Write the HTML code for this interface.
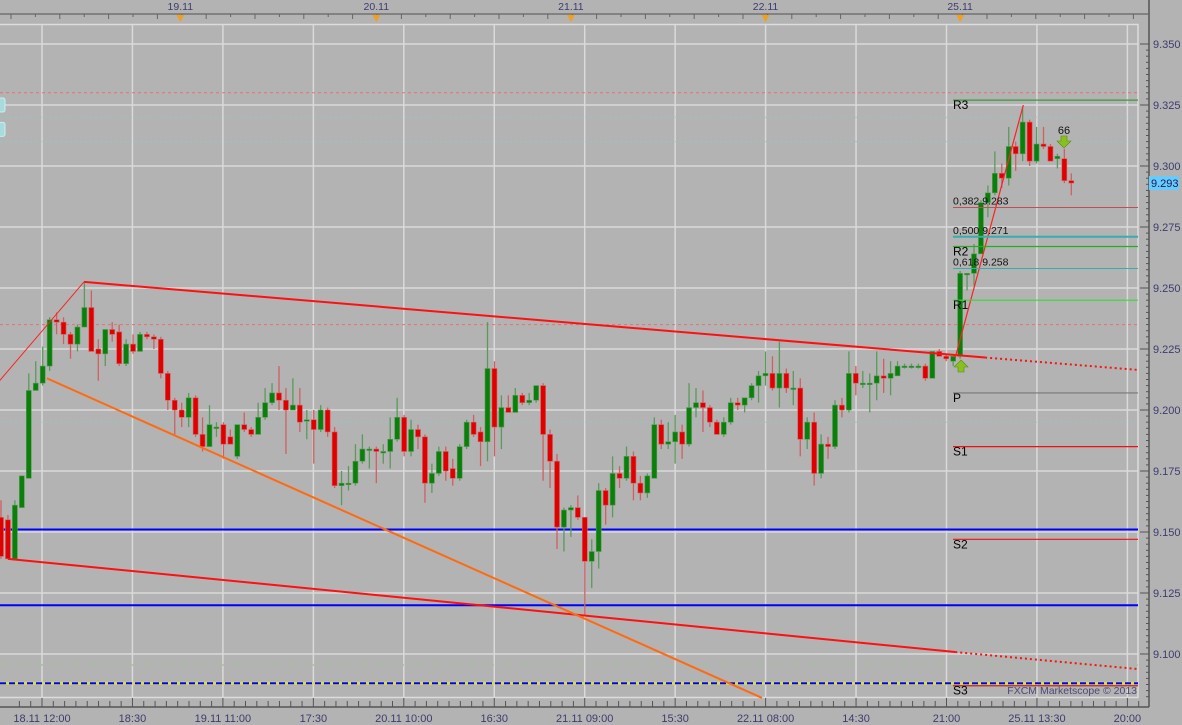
<!DOCTYPE html>
<html><head><meta charset="utf-8"><style>
html,body{margin:0;padding:0;background:#b3b3b3;}
svg{display:block;font-family:"Liberation Sans",sans-serif;}
</style></head><body>
<svg id="chart" width="1182" height="725" viewBox="0 0 1182 725" xmlns="http://www.w3.org/2000/svg">
<rect x="0" y="0" width="1182" height="725" fill="#b3b3b3"/>
<g id="grid"></g>
<g id="overlays"></g>
<g id="candles"></g>
<g id="drawings"></g>
<g id="axes"></g>
</svg>
<script>
const opens=[9.156,9.155,9.139,9.160,9.172,9.208,9.211,9.218,9.237,9.236,9.231,9.227,9.234,9.242,9.225,9.223,9.233,9.232,9.219,9.227,9.224,9.231,9.230,9.229,9.215,9.204,9.200,9.197,9.205,9.190,9.185,9.193,9.194,9.189,9.181,9.194,9.192,9.190,9.197,9.203,9.207,9.204,9.200,9.202,9.196,9.196,9.192,9.200,9.191,9.169,9.170,9.170,9.179,9.184,9.184,9.183,9.183,9.188,9.197,9.183,9.192,9.189,9.170,9.174,9.183,9.176,9.172,9.185,9.195,9.191,9.187,9.217,9.193,9.201,9.199,9.206,9.203,9.204,9.210,9.190,9.179,9.152,9.159,9.160,9.156,9.138,9.142,9.167,9.161,9.174,9.172,9.181,9.170,9.166,9.172,9.194,9.186,9.187,9.191,9.186,9.201,9.203,9.201,9.195,9.190,9.195,9.203,9.202,9.205,9.210,9.214,9.215,9.209,9.215,9.209,9.209,9.188,9.195,9.174,9.186,9.185,9.202,9.200,9.215,9.211,9.211,9.211,9.214,9.213,9.214,9.218,9.218,9.218,9.218,9.213,9.224,9.222,9.220,9.222,9.256,9.256,9.264,9.285,9.289,9.297,9.295,9.308,9.305,9.318,9.302,9.309,9.308,9.303,9.303,9.294];
const highs=[9.163,9.157,9.163,9.166,9.215,9.220,9.226,9.238,9.240,9.238,9.232,9.235,9.252,9.249,9.229,9.233,9.236,9.235,9.229,9.231,9.232,9.232,9.231,9.230,9.216,9.205,9.203,9.207,9.206,9.197,9.202,9.195,9.195,9.192,9.191,9.199,9.193,9.203,9.209,9.211,9.218,9.209,9.213,9.209,9.200,9.200,9.202,9.201,9.193,9.175,9.177,9.186,9.190,9.185,9.185,9.186,9.197,9.205,9.198,9.196,9.194,9.190,9.178,9.185,9.185,9.180,9.186,9.196,9.198,9.193,9.236,9.220,9.206,9.206,9.209,9.207,9.207,9.210,9.211,9.192,9.182,9.160,9.161,9.165,9.156,9.147,9.170,9.168,9.181,9.177,9.185,9.183,9.173,9.174,9.197,9.196,9.195,9.198,9.194,9.211,9.209,9.208,9.202,9.196,9.197,9.205,9.205,9.205,9.211,9.216,9.224,9.222,9.228,9.217,9.216,9.213,9.197,9.199,9.190,9.189,9.204,9.205,9.224,9.218,9.216,9.215,9.224,9.221,9.220,9.220,9.219,9.219,9.219,9.219,9.224,9.225,9.223,9.221,9.257,9.256,9.268,9.286,9.292,9.306,9.301,9.316,9.310,9.324,9.319,9.316,9.316,9.309,9.305,9.307,9.297];
const lows=[9.139,9.139,9.139,9.160,9.172,9.208,9.210,9.216,9.231,9.227,9.221,9.224,9.234,9.224,9.212,9.218,9.228,9.218,9.218,9.223,9.224,9.229,9.225,9.213,9.200,9.190,9.193,9.193,9.189,9.183,9.185,9.189,9.180,9.186,9.180,9.191,9.189,9.190,9.196,9.202,9.200,9.182,9.200,9.191,9.188,9.178,9.191,9.189,9.168,9.161,9.167,9.169,9.178,9.176,9.170,9.178,9.176,9.187,9.181,9.181,9.184,9.162,9.166,9.173,9.171,9.169,9.171,9.184,9.189,9.177,9.179,9.181,9.184,9.199,9.199,9.202,9.202,9.203,9.171,9.168,9.143,9.142,9.148,9.155,9.116,9.127,9.135,9.153,9.156,9.168,9.171,9.163,9.163,9.164,9.172,9.184,9.184,9.178,9.180,9.185,9.197,9.191,9.193,9.190,9.189,9.194,9.200,9.199,9.204,9.203,9.210,9.208,9.201,9.207,9.202,9.181,9.184,9.169,9.172,9.180,9.184,9.197,9.199,9.206,9.209,9.199,9.204,9.207,9.206,9.214,9.217,9.217,9.217,9.212,9.213,9.222,9.220,9.218,9.221,9.249,9.251,9.264,9.279,9.288,9.291,9.292,9.298,9.302,9.300,9.301,9.307,9.302,9.299,9.293,9.288];
const closes=[9.140,9.139,9.161,9.173,9.208,9.211,9.218,9.237,9.236,9.231,9.227,9.234,9.242,9.224,9.223,9.233,9.231,9.219,9.227,9.224,9.231,9.230,9.229,9.215,9.204,9.200,9.197,9.205,9.190,9.185,9.194,9.193,9.186,9.186,9.194,9.192,9.190,9.197,9.203,9.207,9.204,9.200,9.202,9.195,9.196,9.192,9.200,9.191,9.169,9.170,9.170,9.179,9.184,9.184,9.183,9.183,9.188,9.197,9.183,9.192,9.189,9.170,9.174,9.183,9.175,9.172,9.185,9.195,9.190,9.187,9.217,9.193,9.201,9.199,9.206,9.203,9.204,9.210,9.190,9.179,9.152,9.159,9.160,9.156,9.138,9.142,9.167,9.161,9.174,9.172,9.181,9.170,9.166,9.173,9.194,9.186,9.187,9.191,9.186,9.201,9.203,9.201,9.195,9.190,9.195,9.203,9.202,9.205,9.210,9.214,9.215,9.209,9.215,9.209,9.209,9.188,9.195,9.174,9.186,9.185,9.202,9.200,9.215,9.211,9.211,9.211,9.214,9.213,9.215,9.218,9.218,9.218,9.218,9.213,9.224,9.222,9.221,9.222,9.256,9.256,9.264,9.285,9.289,9.297,9.295,9.308,9.305,9.318,9.302,9.309,9.308,9.302,9.304,9.294,9.293];
const priceTicks=[9.350,9.325,9.300,9.275,9.250,9.225,9.200,9.175,9.150,9.125,9.100];
const timeLabels=["18.11 12:00","18:30","19.11 11:00","17:30","20.11 10:00","16:30","21.11 09:00","15:30","22.11 08:00","14:30","21:00","25.11 13:30","20:00"];
const dayLabels=["19.11","20.11","21.11","22.11","25.11"];
const dayIndex=[25.8,54,82,110,138];
const pivotNames=["R3","R2","R1","P","S1","S2","S3"];
const pivotValues=[9.327,9.267,9.245,9.207,9.185,9.147,9.087];
const pivotColors=["#3c9a3c","#22b022","#33dd33","#777777","#ee1111","#ee1111","#cc2222"];
const fibLabels=["0,382 9.283","0,500 9.271","0,618 9.258"];
const fibValues=[9.283,9.271,9.258];
const lastPrice=9.293;

const NS="http://www.w3.org/2000/svg";
const X0=1, STEP=6.95;
function xs(i){return X0+i*STEP;}
function ys(p){return 44+(9.35-p)*2440;}
function mk(tag,attrs,parent){const e=document.createElementNS(NS,tag);for(const k in attrs)e.setAttribute(k,attrs[k]);parent.appendChild(e);return e;}
const grid=document.getElementById('grid'),ov=document.getElementById('overlays'),cg=document.getElementById('candles'),dr=document.getElementById('drawings'),ax=document.getElementById('axes');
const PR=1138;
// frame
let f=mk('rect',{x:-1,y:24.5,width:PR+1,height:673,fill:'none',stroke:'#dcdcdc','stroke-width':1.5},grid);

priceTicks.forEach(p=>{const l=mk('line',{x1:0,x2:PR,y1:ys(p),y2:ys(p),stroke:'#dadada','stroke-width':1.5},grid);
});
timeLabels.forEach((t,k)=>{const x=42+k*90.45;const l=mk('line',{x1:x,x2:x,y1:25,y2:698,stroke:'#dadada','stroke-width':1.5},grid);
});
// horizontal overlays
function hl(p,color,dash,w,name){const l=mk('line',{x1:0,x2:PR,y1:ys(p),y2:ys(p),stroke:color,'stroke-width':w},ov);if(dash)l.setAttribute('stroke-dasharray',dash);
return l;}
hl(9.330,'#e87070','3,3',1,'level-dashed-red');
hl(9.320,'#8ccaca','2,3',1,'level-dotted-cyan');
hl(9.310,'#8ccaca','2,3',1,'level-dotted-cyan');
hl(9.235,'#e87070','3,3',1,'level-dashed-red');
hl(9.195,'#8ccaca','2,3',1,'level-dotted-cyan');
hl(9.0955,'#a8bca0','8,4,2,4',1.5,'level-dashdot');
hl(9.151,'#0000ff',null,2,'support-line-blue');
hl(9.120,'#0000ff',null,2,'support-line-blue');
hl(9.088,'#d8e040',null,3,'level-yellow');
hl(9.088,'#0000ff','6,3',2,'level-blue-dashed');
// left tags
[9.325,9.315].forEach(p=>{const r=mk('rect',{x:-8,y:ys(p)-7,width:13,height:14,rx:2,fill:'#a8dcdc',stroke:'#c8eeee'},ov);
});
// candles
for(let i=0;i<opens.length;i++){
  const o=opens[i],c=closes[i],h=highs[i],l=lows[i];const up=c>=o;const x=xs(i);
  const col=up?'#0a800a':'#e00000';const soft=up?'#5a9a5a':'#d06060';
  const w=mk('line',{x1:x,x2:x,y1:ys(h),y2:ys(l),stroke:soft,'stroke-width':1.3},cg);
  
  const top=ys(Math.max(o,c)),bh=Math.max(1.5,Math.abs(ys(o)-ys(c)));
  const b=mk('rect',{x:x-2.5,y:top,width:5,height:bh,fill:col,stroke:soft,'stroke-width':0.6},cg);
  
}
// trend lines
function tl(i1,p1,i2,p2,color,w,dash,name){const l=mk('line',{x1:xs(i1),y1:ys(p1),x2:xs(i2),y2:ys(p2),stroke:color,'stroke-width':w},dr);if(dash)l.setAttribute('stroke-dasharray',dash);
}
tl(11.94,9.2525,141.6,9.2215,'#ff1010',2,null,'channel-upper');
tl(141.6,9.2215,163.7,9.2164,'#ff1010',2,'2,3','channel-upper-ext');
tl(1,9.139,137.3,9.1008,'#ff1010',2,null,'channel-lower');
tl(137.3,9.1008,163.7,9.0938,'#ff1010',2,'2,3','channel-lower-ext');
tl(-0.2,9.212,11.94,9.2525,'#ff2020',1,null,'swing-line');
tl(6.6,9.213,109.5,9.082,'#ff6a10',2,null,'orange-trendline');
tl(137.3,9.2215,147.1,9.325,'#ff2020',1.2,null,'fib-swing-line');
// pivots
pivotNames.forEach((n,k)=>{const y=ys(pivotValues[k]);const l=mk('line',{x1:953,x2:PR,y1:y,y2:y,stroke:pivotColors[k],'stroke-width':1.2},dr);

const t=mk('text',{x:953,y:y+9,'font-size':12,fill:'#000'},dr);t.textContent=n;
});
fibValues.forEach((v,k)=>{const y=ys(v);const l=mk('line',{x1:953,x2:PR,y1:y,y2:y,stroke:k==0?'#c05050':'#3aacac','stroke-width':k==1?2:1},dr);

const t=mk('text',{x:953,y:y-3,'font-size':10.5,fill:'#111'},dr);t.textContent=fibLabels[k];
});
// signals
let t66=mk('text',{x:1064,y:134,'font-size':11,fill:'#111','text-anchor':'middle'},dr);t66.textContent='66';

let ad=mk('path',{d:'M1061 136h6v5h4l-7 7l-7-7h4z',fill:'#88c020',stroke:'#5a8a10','stroke-width':0.6},dr);

let au=mk('path',{d:'M961 360l7 7h-4v5h-6v-5h-4z',fill:'#88c020',stroke:'#5a8a10','stroke-width':0.6},dr);

let wm=mk('text',{x:1137,y:694,'font-size':10.5,fill:'#4a4a7a','text-anchor':'end'},dr);wm.textContent='FXCM Marketscope © 2013';

// right axis
let ra=mk('line',{x1:1149,x2:1149,y1:0,y2:707,stroke:'#555','stroke-width':1.5},ax);

for(let k=0;k<=110;k++){const p=9.35-k*0.0025;const y=ys(p);if(y<25||y>700)continue;const major=k%10==0;
const tk=mk('line',{x1:major?1140:1146,x2:1149,y1:y,y2:y,stroke:'#555','stroke-width':1},ax);
}
priceTicks.forEach(p=>{const t=mk('text',{x:1153,y:ys(p)+4,'font-size':11,fill:'#3c3c6e'},ax);t.textContent=p.toFixed(3);
});
let pt=mk('rect',{x:1149,y:ys(lastPrice)-7,width:30,height:14,fill:'#66ccff'},ax);

let ptt=mk('text',{x:1151,y:ys(lastPrice)+4,'font-size':11,fill:'#1a1a50'},ax);ptt.textContent=lastPrice.toFixed(3);

// bottom axis
let ba=mk('line',{x1:0,x2:1149,y1:707,y2:707,stroke:'#555','stroke-width':1.5},ax);

for(let k=-2;k<130;k++){const x=42+k*90.45/8;if(x<0||x>1140)continue;const major=k%8==0;
const tk=mk('line',{x1:x,x2:x,y1:major?698:701,y2:707,stroke:'#555','stroke-width':1},ax);
}
timeLabels.forEach((s,k)=>{const t=mk('text',{x:42+k*90.45,y:722,'font-size':11,fill:'#3c3c6e','text-anchor':'middle'},ax);t.textContent=s;
});
// top axis
let tla=mk('line',{x1:0,x2:1149,y1:14,y2:14,stroke:'#666','stroke-width':1.2},ax);

for(let k=-1;k<50;k++){const x=11+k*24.4;if(x<0||x>1140)continue;
const tk=mk('line',{x1:x,x2:x,y1:14,y2:k%2==0?19:17,stroke:'#666','stroke-width':1},ax);
}
dayLabels.forEach((s,k)=>{const x=xs(dayIndex[k]);
const t=mk('text',{x:x,y:10,'font-size':10.5,fill:'#3c3c6e','text-anchor':'middle'},ax);t.textContent=s;

const m=mk('path',{d:`M${x-4} 15h8l-4 7z`,fill:'#f0a020'},ax);
});
</script>
</body></html>
